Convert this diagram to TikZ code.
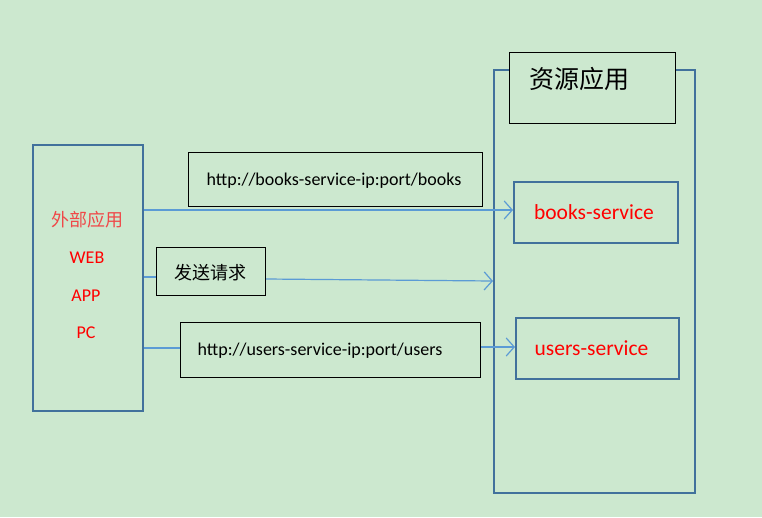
\documentclass[tikz,border=0pt]{standalone}
\usepackage{fontspec}
\setmainfont{Carlito}
\newfontfamily\cjk{Noto Sans CJK SC}
\usetikzlibrary{arrows.meta}
\definecolor{bg}{HTML}{CCE8CF}
\definecolor{frame}{HTML}{41719C}
\definecolor{link}{HTML}{5B9BD5}
\definecolor{lbl}{HTML}{FF0000}
\definecolor{lblsoft}{HTML}{F04848}
\begin{document}
\begin{tikzpicture}[x=1pt,y=-1pt,
  bluebox/.style={draw=frame,line width=2pt,fill=bg},
  blackbox/.style={draw=black,line width=1pt,fill=bg},
  conn/.style={draw=link,line width=1.2pt},
  arr/.style={conn,-{Straight Barb[length=8pt,width=18pt,line width=1.2pt]}},
  redtxt/.style={text=lbl,font=\fontsize{18}{21}\selectfont}]
\useasboundingbox[fill=bg] (0,0) rectangle (762,517);
% big boxes
\node[bluebox,minimum width=110pt,minimum height=266pt,anchor=north west] (ext) at (32,144) {};
\node[bluebox,minimum width=201pt,minimum height=423pt,anchor=north west] (res) at (493,69) {};
\node[blackbox,minimum width=166pt,minimum height=71pt,anchor=north west] (title) at (509,52) {};
\node[anchor=west,font=\cjk\fontsize{25}{28}\selectfont] (titletxt) at (526,79) {资源应用};
% left labels
\node[text=lblsoft,font=\cjk\fontsize{18}{21}\selectfont] (waibu) at (87,220) {外部应用};
\node[redtxt] (web) at (87,258) {WEB};
\node[redtxt] (app) at (86,296) {APP};
\node[redtxt] (pc) at (86,333) {PC};
% services
\node[bluebox,minimum width=164pt,minimum height=61pt,anchor=north west] (books) at (513,181) {};
\node[text=lbl,font=\fontsize{21.5}{25}\selectfont] at ([xshift=-2pt]books.center) {books-service};
\node[bluebox,minimum width=163pt,minimum height=61pt,anchor=north west] (users) at (515,317) {};
\node[text=lbl,font=\fontsize{21.5}{25}\selectfont] at ([xshift=-6pt]users.center) {users-service};
% request boxes
\node[blackbox,minimum width=294pt,minimum height=54pt,anchor=north west] (burl) at (188,152) {};
\node[font=\fontsize{18}{21}\selectfont] at (334,181) {http://books-service-ip:port/books};
\node[blackbox,minimum width=109pt,minimum height=48pt,anchor=north west] (send) at (156,247) {};
\node[font=\cjk\fontsize{18}{21}\selectfont] at (210,273) {发送请求};
\node[blackbox,minimum width=300pt,minimum height=55pt,anchor=north west] (uurl) at (180,322) {};
\node[font=\fontsize{18}{21}\selectfont] at (320,351) {http://users-service-ip:port/users};
% connectors
\coordinate (bs) at (ext.east |- 0,210);
\draw[arr] (bs) -- (bs -| books.west);
\draw[conn] (ext.east |- 0,277) -- (send.west |- 0,277);
\coordinate (se) at (send.east |- 0,279);
\draw[arr] (se) -- (res.west |- 0,281);
\draw[conn] (ext.east |- 0,348) -- (uurl.west |- 0,348);
\coordinate (ue) at (uurl.east |- 0,347);
\draw[arr] (ue) -- (ue -| users.west);
\end{tikzpicture}
\end{document}
